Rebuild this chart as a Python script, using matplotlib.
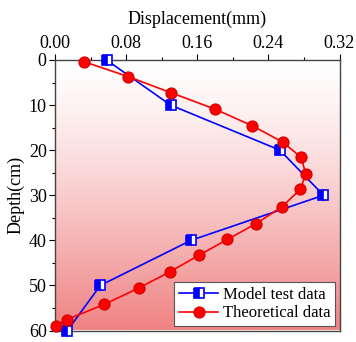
import numpy as np
import matplotlib
matplotlib.use("Agg")
import matplotlib.pyplot as plt
from matplotlib.colors import LinearSegmentedColormap

plt.rcParams['font.family'] = ['Liberation Serif', 'DejaVu Serif']

# Model test data
test_disp = [0.058, 0.130, 0.253, 0.302, 0.153, 0.051, 0.014]
test_depth = [0, 10, 20, 30, 40, 50, 60]

# Theoretical data
theo_disp = [0.033, 0.0825, 0.131, 0.180, 0.222, 0.256, 0.277, 0.282, 0.276,
             0.255, 0.226, 0.194, 0.162, 0.129, 0.095, 0.0555, 0.013, 0.001]
theo_depth = [0.4, 3.7, 7.3, 10.9, 14.6, 18.2, 21.6, 25.3, 28.7,
              32.6, 36.3, 39.8, 43.3, 47.0, 50.5, 54.2, 57.6, 59.1]

fig = plt.figure(figsize=(3.56, 3.42), dpi=100)
ax = fig.add_axes([55/356, 1-330.5/342, 284.5/356, 270.5/342])

# background gradient white -> light red (smooth)
cmap = LinearSegmentedColormap.from_list('bg', ['#ffffff', '#f08282'])
grad = (np.linspace(0, 1, 256) ** 1.3).reshape(-1, 1)
ax.imshow(grad, cmap=cmap, aspect='auto', extent=[0, 0.32, 60, 0], zorder=0,
          vmin=0, vmax=1)

ax.plot(test_disp, test_depth, color='blue', lw=1.2, marker='s', ms=7,
        fillstyle='left', markerfacecolor='blue', markerfacecoloralt='white',
        markeredgecolor='blue', markeredgewidth=1.2, label='Model test data',
        zorder=3, clip_on=False)
ax.plot(theo_disp, theo_depth, color='red', lw=1.2, marker='o', ms=8,
        markerfacecolor='red', markeredgecolor='#d00000', markeredgewidth=0.8,
        label='Theoretical data', zorder=4, clip_on=False)

ax.set_xlim(0, 0.32)
ax.set_ylim(60, 0)
ax.xaxis.tick_top()
ax.xaxis.set_label_position('top')
ax.set_xticks([0, 0.08, 0.16, 0.24, 0.32])
ax.set_xticklabels(['0.00', '0.08', '0.16', '0.24', '0.32'])
ax.set_xticks(np.arange(0.04, 0.32, 0.08), minor=True)
ax.set_yticks([0, 10, 20, 30, 40, 50, 60])
ax.set_yticks(np.arange(5, 60, 10), minor=True)
ax.tick_params(axis='both', which='major', direction='out', length=4,
               width=0.8, labelsize=13, pad=2)
ax.tick_params(axis='both', which='minor', direction='out', length=2.5, width=0.8)
ax.set_xlabel('Displacement(mm)', fontsize=13, labelpad=8)
ax.set_ylabel('Depth(cm)', fontsize=13, labelpad=3)
for s in ax.spines.values():
    s.set_color('#444444')
    s.set_linewidth(1.0)

leg = ax.legend(loc='lower right', fontsize=12, frameon=True, fancybox=False,
                edgecolor='#555555', framealpha=1, borderpad=0.3,
                handlelength=2.3, handletextpad=0.3, labelspacing=0.15,
                borderaxespad=0.25)
leg.get_frame().set_linewidth(0.8)

fig.savefig('out.png', dpi=100)
